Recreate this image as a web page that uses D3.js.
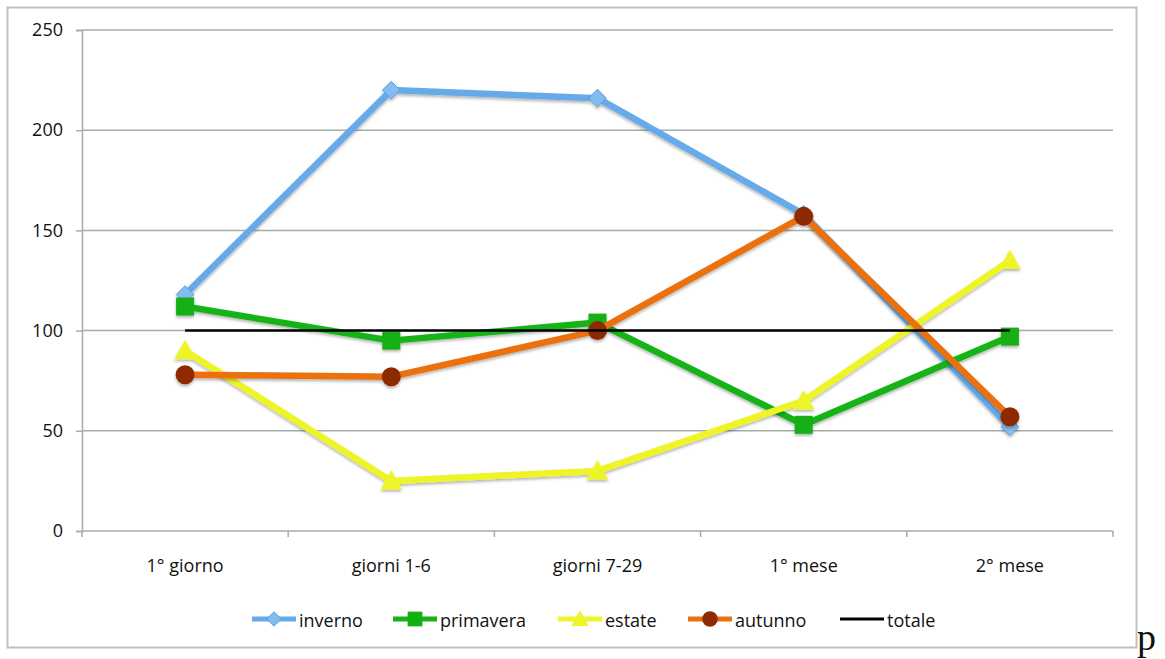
<!DOCTYPE html>
<html>
<head>
<meta charset="utf-8">
<script src="https://cdn.jsdelivr.net/npm/d3@7"></script>
<style>
  html, body { margin: 0; padding: 0; background: #fff; }
  svg { display: block; }
  text { font-family: "Open Sans", "Noto Sans", sans-serif; fill: #111; }
</style>
</head>
<body>
<svg id="chart" width="1165" height="659"></svg>
<script>
// Periods on the horizontal axis
const categories = ["1° giorno", "giorni 1-6", "giorni 7-29", "1° mese", "2° mese"];
// Values per season
const inverno   = [118, 220, 216, 158, 52];
const primavera = [112, 95, 104, 53, 97];
const estate    = [90, 25, 30, 65, 135];
const autunno   = [78, 77, 100, 157, 57];
const totale    = [100, 100, 100, 100, 100];
// Axis ticks
const yTicks = [0, 50, 100, 150, 200, 250];
const seriesNames = ["inverno", "primavera", "estate", "autunno", "totale"];

const series = [
  { name: seriesNames[0], values: inverno,   line: "#66aaea", mark: "#82bcf0", shape: "diamond",  lw: 6.5 },
  { name: seriesNames[1], values: primavera, line: "#16b316", mark: "#13b013", shape: "square",   lw: 6.5 },
  { name: seriesNames[2], values: estate,    line: "#eef528", mark: "#eef528", shape: "triangle", lw: 6.5 },
  { name: seriesNames[3], values: autunno,   line: "#ea710c", mark: "#8e2a06", shape: "circle",   lw: 6.5 },
  { name: seriesNames[4], values: totale,    line: "#000000", mark: null,      shape: null,       lw: 2.5 }
];

const svg = d3.select("#chart");

const defs = svg.append("defs");
const f = defs.append("filter").attr("id", "shadow")
  .attr("x", "-30%").attr("y", "-30%").attr("width", "160%").attr("height", "160%");
f.append("feDropShadow").attr("dx", 0).attr("dy", 2).attr("stdDeviation", 1.5)
  .attr("flood-color", "#000").attr("flood-opacity", 0.3);

// Outer frame
svg.append("rect")
  .attr("x", 7.5).attr("y", 7.5).attr("width", 1129).attr("height", 640)
  .attr("fill", "#fff").attr("stroke", "#b9c3c1").attr("stroke-width", 2);

const x = d3.scaleBand().domain(categories).range([82, 1113]).paddingInner(0).paddingOuter(0);
const cx = c => x(c) + x.bandwidth() / 2;
const y = d3.scaleLinear().domain([0, 250]).range([531, 30]);

// Horizontal gridlines
svg.append("g").selectAll("line")
  .data(yTicks.filter(t => t > 0))
  .join("line")
  .attr("x1", 82).attr("x2", 1113)
  .attr("y1", d => y(d)).attr("y2", d => y(d))
  .attr("stroke", "#a3adab").attr("stroke-width", 1.5);

// Y axis
const yAxis = svg.append("g").attr("transform", "translate(82,0)")
  .call(d3.axisLeft(y).tickValues(yTicks).tickSize(6).tickPadding(13).tickFormat(d3.format("d")));
yAxis.selectAll("path, line").attr("stroke", "#a3adab").attr("stroke-width", 1.5);
yAxis.selectAll("text").attr("font-size", 18).attr("fill", "#111")
  .style("font-family", "'Open Sans', sans-serif");

// X axis: baseline with ticks at band boundaries
const xg = svg.append("g");
xg.append("line").attr("x1", 82).attr("x2", 1113).attr("y1", y(0)).attr("y2", y(0))
  .attr("stroke", "#a3adab").attr("stroke-width", 1.5);
const bounds = categories.map(c => x(c)).concat([x(categories[categories.length - 1]) + x.bandwidth()]);
xg.selectAll("line.tk").data(bounds).join("line").attr("class", "tk")
  .attr("x1", d => d).attr("x2", d => d).attr("y1", y(0)).attr("y2", y(0) + 6)
  .attr("stroke", "#a3adab").attr("stroke-width", 1.5);
xg.selectAll("text").data(categories).join("text")
  .attr("x", d => cx(d)).attr("y", 572).attr("text-anchor", "middle")
  .attr("font-size", 18).text(d => d);

// Marker drawing
function marker(g, shape, color, size) {
  if (shape === "circle") {
    g.append("circle").attr("r", size * 0.5).attr("fill", color);
  } else if (shape === "square") {
    g.append("rect").attr("x", -size / 2).attr("y", -size / 2)
      .attr("width", size).attr("height", size).attr("fill", color);
  } else if (shape === "diamond") {
    const s = size * 0.55;
    g.append("path").attr("d", `M0,${-s}L${s},0L0,${s}L${-s},0Z`)
      .attr("fill", color).attr("stroke", "#5a9ddd").attr("stroke-width", 1);
  } else if (shape === "triangle") {
    const s = size * 0.6;
    g.append("path").attr("d", `M0,${-s}L${s},${s * 0.8}L${-s},${s * 0.8}Z`).attr("fill", color);
  }
}
const markerSize = { diamond: 16, square: 18, triangle: 18, circle: 19 };

const line = d3.line().x((d, i) => cx(categories[i])).y(d => y(d));

series.forEach(s => {
  const g = svg.append("g").attr("filter", s.mark ? "url(#shadow)" : null);
  g.append("path").datum(s.values).attr("d", line)
    .attr("fill", "none").attr("stroke", s.line).attr("stroke-width", s.lw)
    .attr("stroke-linejoin", "round");
  if (s.mark) {
    s.values.forEach((v, i) => {
      const mg = g.append("g").attr("transform", `translate(${cx(categories[i])},${y(v)})`);
      marker(mg, s.shape, s.mark, markerSize[s.shape]);
    });
  }
});

// Legend: each entry is a 44px line sample followed by its label
const legendStart = [252, 393, 558, 688, 840];
const ly = 619;
series.forEach((s, i) => {
  const x0 = legendStart[i], x1 = x0 + 44;
  const g = svg.append("g");
  g.append("line").attr("x1", x0).attr("x2", x1).attr("y1", ly).attr("y2", ly)
    .attr("stroke", s.line).attr("stroke-width", s.mark ? 5 : 3);
  if (s.mark) {
    const mg = g.append("g").attr("transform", `translate(${(x0 + x1) / 2},${ly})`);
    marker(mg, s.shape, s.mark, markerSize[s.shape] * 0.82);
  }
  g.append("text").attr("x", x1 + 3).attr("y", ly + 8)
    .attr("font-size", 18).text(s.name);
});

// Stray glyph beside the frame
svg.append("text").attr("x", 1137).attr("y", 650)
  .attr("font-size", 38).style("font-family", "'Liberation Serif', 'DejaVu Serif', serif")
  .text("p");
</script>
</body>
</html>
